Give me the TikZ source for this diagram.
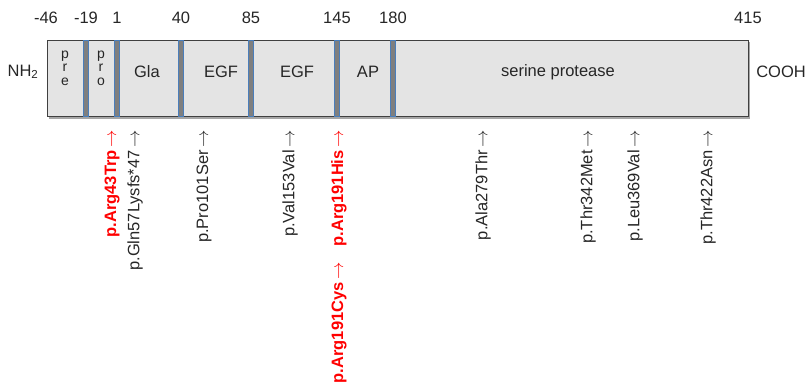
\documentclass[tikz,border=0pt]{standalone}
\usepackage{fontspec}
\setmainfont{Liberation Sans}
\usepackage{tikz}

\definecolor{boxfill}{HTML}{E4E4E4}
\definecolor{boxline}{HTML}{404040}
\definecolor{barfill}{HTML}{7F7F7F}
\definecolor{barline}{HTML}{4A7EBB}
\definecolor{txt}{HTML}{262626}
\definecolor{hot}{HTML}{FF0000}

\newcommand{\upar}{\,$\rightarrow$}

\begin{document}
\begin{tikzpicture}[x=1pt,y=-1pt]

      \tikzstyle{every node}=[inner sep=0pt,text=txt,font=\fontsize{16.5}{19}\selectfont]
      \tikzstyle{bar}=[draw=barline,fill=barfill,line width=0.8pt,minimum width=5pt,
                       minimum height=76pt]
      \tikzstyle{mut}=[rotate=90,anchor=east]
      \tikzstyle{hotmut}=[mut,text=hot,font=\fontsize{16.5}{19}\selectfont\bfseries]
      \tikzstyle{letter}=[font=\fontsize{14}{14}\selectfont]

      \useasboundingbox (0,0) rectangle (809,391);

      % protein chain
      \fill[black!35] (49,42) rectangle (750,119);
      \node (chain) [draw=boxline,fill=boxfill,line width=1.3pt,anchor=north west,
                     minimum width=701pt,minimum height=76pt] at (47,40) {};

      % domain borders
      \foreach \x/\n in {86/a,117/b,181/c,251/d,337/e,393/f}
        \node (\n) [bar] at (\x,78) {};

      % residue numbers
      \foreach \x/\t in {46/-46,86/-19,117/1,181/40,251/85,337/145,393/180,748/415}
        \node at (\x,18) {\t};

      \node (nh) at (23,72) {NH\textsubscript{2}};
      \node (cooh) at (781,72) {COOH};

      % domains
      \foreach \l [count=\i] in {p,r,e}
        \node (pre\i) [letter,anchor=base] at (65,44.5+13.5*\i) {\l};
      \foreach \l [count=\i] in {p,r,o}
        \node (pro\i) [letter,anchor=base] at (101,44.5+13.5*\i) {\l};
      \node (gla) at (147,72) {Gla};
      \node (egfa) at (221,72) {EGF};
      \node (egfb) at (297,72) {EGF};
      \node (ap) at (368,72) {AP};
      \node (sp) at (558,72) {serine protease};

      % variants
      \node (m43) [hotmut] at (112,130) {p.Arg43Trp\upar};
      \node (m57) [mut] at (135,130) {p.Gln57Lysfs*47\upar};
      \node (m101) [mut] at (204,130) {p.Pro101Ser\upar};
      \node (m153) [mut] at (290,130) {p.Val153Val\upar};
      \node (m191h) [hotmut] at (339,130) {p.Arg191His\upar};
      \node (m191c) [hotmut] at (339,262) {p.Arg191Cys\upar};
      \node (m279) [mut] at (483,130) {p.Ala279Thr\upar};
      \node (m342) [mut] at (588,130) {p.Thr342Met\upar};
      \node (m369) [mut] at (635,130) {p.Leu369Val\upar};
      \node (m422) [mut] at (708,130) {p.Thr422Asn\upar};

    \end{tikzpicture}
\end{document}
